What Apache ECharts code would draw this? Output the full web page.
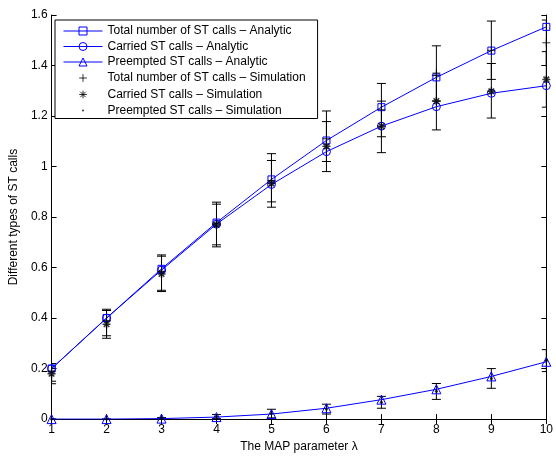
<!DOCTYPE html>
<html>
<head>
<meta charset="utf-8">
<script src="https://cdn.jsdelivr.net/npm/echarts@6/dist/echarts.min.js"></script>
<style>html,body{margin:0;padding:0;background:#fff;}#c{width:556px;height:458px;}</style>
</head>
<body>
<div id="c"></div>
<script>
const lambda = [1, 2, 3, 4, 5, 6, 7, 8, 9, 10];
const xTicks = [1, 2, 3, 4, 5, 6, 7, 8, 9, 10];
const yTicks = [0, 0.2, 0.4, 0.6, 0.8, 1, 1.2, 1.4, 1.6];

const totalAnalytic = [0.2, 0.4, 0.595, 0.778, 0.949, 1.103, 1.235, 1.353, 1.459, 1.553];
const carriedAnalytic = [0.2, 0.4, 0.59, 0.772, 0.929, 1.059, 1.16, 1.237, 1.29, 1.32];
const preemptedAnalytic = [0, 0, 0.002, 0.008, 0.02, 0.043, 0.077, 0.118, 0.169, 0.227];

const totalSim = [0.19, 0.39, 0.585, 0.775, 0.945, 1.11, 1.225, 1.37, 1.46, 1.49];
const totalLow = [0.15, 0.33, 0.51, 0.69, 0.86, 1.02, 1.118, 1.259, 1.345, 1.40];
const totalHigh = [0.22, 0.435, 0.65, 0.859, 1.051, 1.22, 1.329, 1.478, 1.576, 1.58];

const carriedSim = [0.18, 0.376, 0.575, 0.77, 0.933, 1.08, 1.16, 1.259, 1.298, 1.345];
const carriedLow = [0.14, 0.32, 0.505, 0.682, 0.839, 0.98, 1.055, 1.145, 1.192, 1.235];
const carriedHigh = [0.21, 0.43, 0.645, 0.851, 1.024, 1.178, 1.259, 1.361, 1.408, 1.455];

const preemptedSim = [0, 0, 0.003, 0.01, 0.022, 0.04, 0.067, 0.11, 0.161, 0.232];
const preemptedLow = [0, 0, 0, 0.002, 0.005, 0.02, 0.043, 0.078, 0.122, 0.188];
const preemptedHigh = [0, 0, 0.006, 0.018, 0.039, 0.059, 0.09, 0.141, 0.2, 0.275];

const names = [
  'Total number of ST calls \u2013 Analytic',
  'Carried ST calls \u2013 Analytic',
  'Preempted ST calls \u2013 Analytic',
  'Total number of ST calls \u2013 Simulation',
  'Carried ST calls \u2013 Simulation',
  'Preempted ST calls \u2013 Simulation'
];

const FONT = '"Liberation Sans", Arial, Helvetica, sans-serif';
const BLUE = '#0000ff';
const pair = (vals) => lambda.map((x, i) => [x, vals[i]]);
const bars = (lo, hi) => lambda.map((x, i) => [x, lo[i], hi[i]]);

function errorBar(params, api) {
  const x = api.value(0);
  const lo = api.coord([x, api.value(1)]);
  const hi = api.coord([x, api.value(2)]);
  const h = 4.5;
  const st = { stroke: '#000', lineWidth: 1 };
  return {
    type: 'group',
    children: [
      { type: 'line', shape: { x1: lo[0], y1: lo[1], x2: hi[0], y2: hi[1] }, style: st },
      { type: 'line', shape: { x1: lo[0] - h, y1: lo[1], x2: lo[0] + h, y2: lo[1] }, style: st },
      { type: 'line', shape: { x1: hi[0] - h, y1: hi[1], x2: hi[0] + h, y2: hi[1] }, style: st }
    ]
  };
}

const PLUS = 'path://M5,0L5,10M0,5L10,5';
const STAR = 'path://M5,0L5,10M0,5L10,5M1.5,1.5L8.5,8.5M1.5,8.5L8.5,1.5';
// legend icons padded with zero-length segments so they stay small
const PLUS_ICON = 'path://M0,0L0,0M10,10L10,10M5,1.2L5,8.8M1.2,5L8.8,5';
const STAR_ICON = 'path://M0,0L0,0M10,10L10,10M5,1.2L5,8.8M1.2,5L8.8,5M2.3,2.3L7.7,7.7M2.3,7.7L7.7,2.3';
const DOT_ICON = 'path://M0,0L0,0M14,14L14,14M7,5.6A1.4,1.4,0,1,1,7,8.4A1.4,1.4,0,1,1,7,5.6Z';

const axisCommon = {
  type: 'value',
  axisLine: { show: true, lineStyle: { color: '#000', width: 1 } },
  axisTick: { show: true, inside: true, length: 5, lineStyle: { color: '#000' } },
  splitLine: { show: false },
  axisLabel: { color: '#000', fontFamily: FONT, fontSize: 12 }
};

const chart = echarts.init(document.getElementById('c'), null, { renderer: 'canvas' });
chart.setOption({
  animation: false,
  backgroundColor: '#fff',
  textStyle: { fontFamily: FONT },
  grid: { left: 49, right: 7, top: 15, bottom: 35 },
  legend: {
    left: 55, top: 20, orient: 'vertical',
    backgroundColor: '#fff', borderColor: '#000', borderWidth: 1,
    padding: [4, 12, 1, 8], itemGap: 1.5, itemWidth: 39, itemHeight: 10,
    lineStyle: { width: 1 },
    itemStyle: { borderWidth: 1 },
    textStyle: { color: '#000', fontSize: 12, fontFamily: FONT, lineHeight: 14 },
    data: [
      { name: names[0] },
      { name: names[1] },
      { name: names[2] },
      { name: names[3], icon: PLUS_ICON },
      { name: names[4], icon: STAR_ICON },
      { name: names[5], icon: DOT_ICON }
    ]
  },
  xAxis: [
    Object.assign({}, axisCommon, {
      position: 'bottom', min: xTicks[0], max: xTicks[xTicks.length - 1], interval: 1,
      axisLabel: Object.assign({}, axisCommon.axisLabel, { margin: 5 }),
      name: 'The MAP parameter \u03bb', nameLocation: 'middle', nameGap: 19,
      nameTextStyle: { color: '#000', fontSize: 12, fontFamily: FONT }
    }),
    Object.assign({}, axisCommon, {
      position: 'top', min: xTicks[0], max: xTicks[xTicks.length - 1], interval: 1,
      axisLabel: { show: false }
    })
  ],
  yAxis: [
    Object.assign({}, axisCommon, {
      position: 'left', min: yTicks[0], max: yTicks[yTicks.length - 1], interval: 0.2,
      axisLabel: Object.assign({}, axisCommon.axisLabel, { margin: 4 }),
      name: 'Different types of ST calls', nameLocation: 'middle', nameGap: 25,
      nameTextStyle: { color: '#000', fontSize: 12, fontFamily: FONT }
    }),
    Object.assign({}, axisCommon, {
      position: 'right', min: yTicks[0], max: yTicks[yTicks.length - 1], interval: 0.2,
      axisLabel: { show: false }
    })
  ],
  series: [
    { type: 'custom', renderItem: errorBar, data: bars(totalLow, totalHigh), clip: true, z: 2, silent: true },
    { type: 'custom', renderItem: errorBar, data: bars(carriedLow, carriedHigh), clip: true, z: 2, silent: true },
    { type: 'custom', renderItem: errorBar, data: bars(preemptedLow, preemptedHigh), clip: true, z: 2, silent: true },
    {
      name: names[0], type: 'line', data: pair(totalAnalytic), symbol: 'rect', symbolSize: 7,
      showAllSymbol: true, z: 3,
      lineStyle: { color: BLUE, width: 1 },
      itemStyle: { color: 'rgba(255,255,255,0)', borderColor: BLUE, borderWidth: 1 }
    },
    {
      name: names[1], type: 'line', data: pair(carriedAnalytic), symbol: 'circle', symbolSize: 8,
      showAllSymbol: true, z: 3,
      lineStyle: { color: BLUE, width: 1 },
      itemStyle: { color: 'rgba(255,255,255,0)', borderColor: BLUE, borderWidth: 1 }
    },
    {
      name: names[2], type: 'line', data: pair(preemptedAnalytic), symbol: 'triangle', symbolSize: 9,
      showAllSymbol: true, z: 3,
      lineStyle: { color: BLUE, width: 1 },
      itemStyle: { color: 'rgba(255,255,255,0)', borderColor: BLUE, borderWidth: 1 }
    },
    {
      name: names[3], type: 'scatter', data: pair(totalSim), symbol: PLUS, symbolSize: 8,
      symbolKeepAspect: true, z: 4,
      itemStyle: { color: 'none', borderColor: '#000', borderWidth: 1 }
    },
    {
      name: names[4], type: 'scatter', data: pair(carriedSim), symbol: STAR, symbolSize: 8,
      symbolKeepAspect: true, z: 4,
      itemStyle: { color: 'none', borderColor: '#000', borderWidth: 1.5 }
    },
    {
      name: names[5], type: 'scatter', data: pair(preemptedSim), symbol: 'circle', symbolSize: 3,
      z: 4,
      itemStyle: { color: '#000' }
    }
  ]
});
</script>
</body>
</html>
